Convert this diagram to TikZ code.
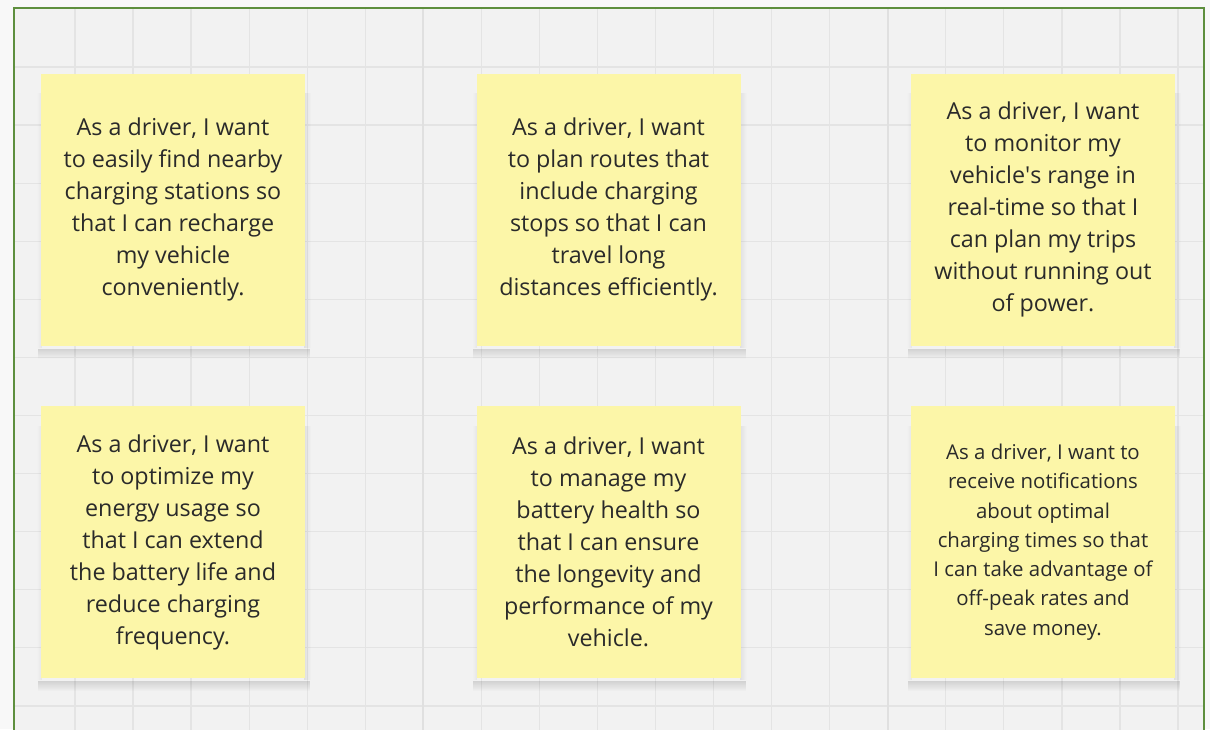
\documentclass[tikz,border=0pt]{standalone}
\usepackage{fontspec}
\setmainfont{Open Sans}
\usetikzlibrary{fadings}
\definecolor{bgout}{HTML}{F8F8F8}
\definecolor{bgin}{HTML}{F2F2F2}
\definecolor{gridc}{HTML}{E4E4E4}
\definecolor{gridmaj}{HTML}{E0E0E0}
\definecolor{frameg}{HTML}{5E8F3E}
\definecolor{notey}{HTML}{FCF6A8}
\definecolor{txt}{HTML}{2A2A2A}
\pgfdeclarelayer{back}
\pgfdeclarelayer{shad}
\pgfsetlayers{back,shad,main}
\tikzset{
  note/.style={fill=notey, draw=none, minimum width=264pt, minimum height=272pt,
    inner sep=0pt, align=center, text=txt, font=\fontsize{23.3}{32}\selectfont},
  smallnote/.style={note, font=\fontsize{20.4}{29.3}\selectfont},
  gridline/.style={draw=gridc, line width=1.3pt},
  majline/.style={draw=gridmaj, line width=2pt},
  shadowbottom/.style={fill=black, fill opacity=0.13, draw=none, path fading=south},
  shadowright/.style={fill=black, fill opacity=0.07, draw=none, path fading=east},
  shadowleft/.style={fill=black, fill opacity=0.05, draw=none, path fading=west},
}
\newcommand{\noteshadow}[1]{%
  \fill[shadowbottom] ([xshift=-3pt, yshift=-3pt]#1.south west) rectangle ([xshift=5pt, yshift=-13pt]#1.south east);%
  \fill[shadowright] ([xshift=-1pt, yshift=-20pt]#1.north east) rectangle ([xshift=6pt, yshift=-2pt]#1.south east);%
  \fill[shadowleft] ([xshift=-4pt, yshift=-20pt]#1.north west) rectangle ([xshift=1pt, yshift=-2pt]#1.south west);%
}
\begin{document}
\begin{tikzpicture}[x=1pt,y=-1pt]
\useasboundingbox (0,0) rectangle (1210,729);
\begin{pgfonlayer}{back}
\fill[bgout] (0,0) rectangle (1210,729);
\fill[bgin] (14,8) rectangle (1204,740);
\begin{scope}
\clip (14,8) rectangle (1204,740);
\foreach \k in {0,...,19} {\draw[gridline] ({75+58.05*\k},8) -- ({75+58.05*\k},740);}
\foreach \k in {0,...,11} {\draw[gridline] (14,{67+58.08*\k}) -- (1204,{67+58.08*\k});}
\draw[majline] (423.3,8) -- (423.3,740);
\draw[majline] (887.7,8) -- (887.7,740);
\end{scope}
\draw[frameg, line width=2pt] (14,740) -- (14,8) -- (1204,8) -- (1204,740);
\end{pgfonlayer}

\node[note] (n1) at (173,209.5) {As a driver, I want\\to easily find nearby\\charging stations so\\that I can recharge\\my vehicle\\conveniently.};
\node[note] (n2) at (608.5,209.5) {As a driver, I want\\to plan routes that\\include charging\\stops so that I can\\travel long\\distances efficiently.};
\node[note] (n3) at (1043,209.5) {As a driver, I want\\to monitor my\\vehicle\textquotesingle s range in\\real-time so that I\\can plan my trips\\without running out\\of power.};
\node[note] (n4) at (173,542) {As a driver, I want\\to optimize my\\energy usage so\\that I can extend\\the battery life and\\reduce charging\\frequency.};
\node[note] (n5) at (608.5,542) {As a driver, I want\\to manage my\\battery health so\\that I can ensure\\the longevity and\\performance of my\\vehicle.};
\node[smallnote] (n6) at (1043,542) {As a driver, I want to\\receive notifications\\about optimal\\charging times so that\\I can take advantage of\\off-peak rates and\\save money.};

\begin{pgfonlayer}{shad}
\noteshadow{n1}\noteshadow{n2}\noteshadow{n3}\noteshadow{n4}\noteshadow{n5}\noteshadow{n6}
\end{pgfonlayer}
\end{tikzpicture}
\end{document}
